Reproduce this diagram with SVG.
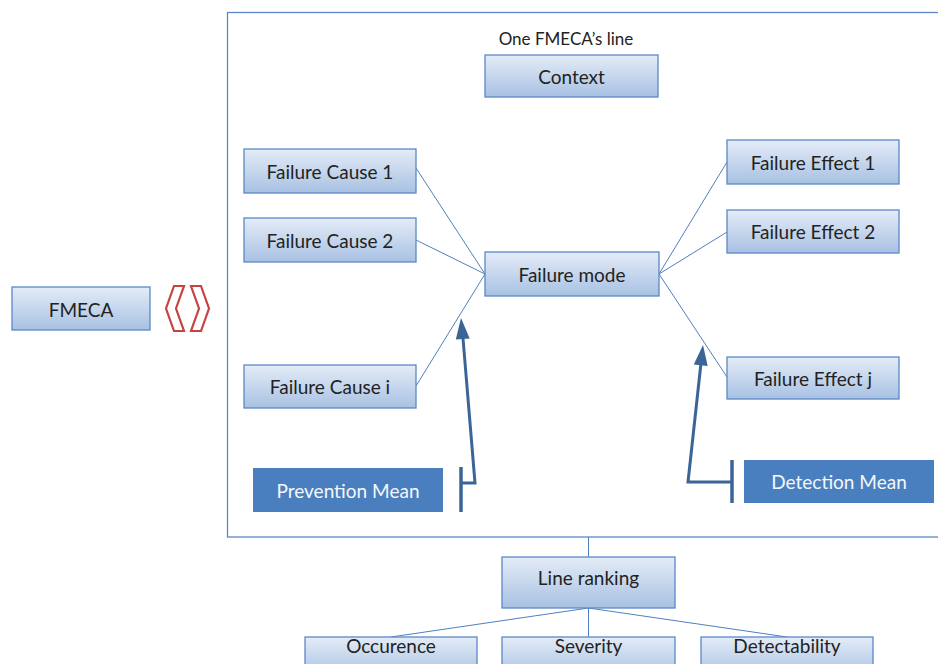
<svg xmlns="http://www.w3.org/2000/svg" width="938" height="664" viewBox="0 0 938 664">
<defs>
<linearGradient id="g" x1="0" y1="0" x2="0" y2="1">
<stop offset="0" stop-color="#e4ecf7"/>
<stop offset="1" stop-color="#a8c1e3"/>
</linearGradient>
</defs>
<style>
.box{fill:url(#g);stroke:#5b88c6;stroke-width:1.3}
.dark{fill:#4a7fbf}
.t{font-family:Lato,"Open Sans",sans-serif;font-size:19px;fill:#222;text-anchor:middle;dominant-baseline:central}
.w{fill:#f4f7fb}
.c{stroke:#4f7fc0;stroke-width:1;fill:none}
.a{stroke:#3a6596;stroke-width:3;fill:none}
.ah{fill:#3a6596}
.bar{stroke:#3a6596;stroke-width:3.5}
</style>
<rect x="0" y="0" width="938" height="664" fill="#fff"/>
<g id="frame"><rect x="227.5" y="12.5" width="730" height="524.5" fill="none" stroke="#5b88c6" stroke-width="1.3"/></g>
<g id="connectors">
<line class="c" x1="485" y1="274" x2="416" y2="168"/>
<line class="c" x1="485" y1="274" x2="416" y2="240"/>
<line class="c" x1="485" y1="274" x2="416" y2="386"/>
<line class="c" x1="659" y1="274" x2="727" y2="162"/>
<line class="c" x1="659" y1="274" x2="727" y2="232"/>
<line class="c" x1="659" y1="274" x2="727" y2="377"/>
<line class="c" x1="588.5" y1="537" x2="588.5" y2="557"/>
<line class="c" x1="588.5" y1="608" x2="391" y2="637"/>
<line class="c" x1="588.5" y1="608" x2="588.5" y2="637"/>
<line class="c" x1="588.5" y1="608" x2="787" y2="637"/>
<polyline class="a" points="461,483 475,483 462.8,336"/>
<polygon class="ah" points="461,318 469.7,338.5 455.8,339.5"/>
<polyline class="a" points="732,482 688,482 701,363"/>
<polygon class="ah" points="703,345 707.7,366 693.8,364.4"/>
<line class="bar" x1="461" y1="467" x2="461" y2="512"/>
<line class="bar" x1="732" y1="460" x2="732" y2="503"/>
</g>
<g id="fmeca"><rect class="box" x="12" y="287" width="138" height="43"/><text class="t" x="81" y="309">FMECA</text></g>
<g id="brackets" fill="#fff" stroke="#c8423f" stroke-width="2.2" stroke-linejoin="miter">
<polygon points="174,286 184,286 176,308.5 184,331 174,331 166,308.5"/>
<polygon points="191,286 201,286 209,308.5 201,331 191,331 199,308.5"/>
</g>
<g id="title"><text class="t" x="566" y="38" style="font-size:17px">One FMECA’s line</text></g>
<g id="context"><rect class="box" x="485" y="55" width="173" height="42"/><text class="t" x="571.5" y="76">Context</text></g>
<g id="fc1"><rect class="box" x="244" y="149" width="172" height="44"/><text class="t" x="330" y="171">Failure Cause 1</text></g>
<g id="fc2"><rect class="box" x="244" y="218" width="172" height="44"/><text class="t" x="330" y="240">Failure Cause 2</text></g>
<g id="fci"><rect class="box" x="244" y="365" width="172" height="43"/><text class="t" x="330" y="386.5">Failure Cause i</text></g>
<g id="fm"><rect class="box" x="485" y="252" width="174" height="44"/><text class="t" x="572" y="274">Failure mode</text></g>
<g id="fe1"><rect class="box" x="727" y="140" width="172" height="44"/><text class="t" x="813" y="162">Failure Effect 1</text></g>
<g id="fe2"><rect class="box" x="727" y="210" width="172" height="43"/><text class="t" x="813" y="231.5">Failure Effect 2</text></g>
<g id="fej"><rect class="box" x="727" y="357" width="172" height="42"/><text class="t" x="813" y="378">Failure Effect j</text></g>
<g id="prev"><rect class="dark" x="253" y="468" width="190" height="44"/><text class="t w" x="348" y="490">Prevention Mean</text></g>
<g id="det"><rect class="dark" x="744" y="460" width="190" height="43"/><text class="t w" x="839" y="481.5">Detection Mean</text></g>
<g id="lr"><rect class="box" x="502" y="557" width="173" height="51"/><text class="t" x="588.5" y="577">Line ranking</text></g>
<g id="occ"><rect class="box" x="305" y="637" width="172" height="40"/><text class="t" x="391" y="645">Occurence</text></g>
<g id="sev"><rect class="box" x="502" y="637" width="173" height="40"/><text class="t" x="588.5" y="645">Severity</text></g>
<g id="dtb"><rect class="box" x="701" y="637" width="172" height="40"/><text class="t" x="787" y="645">Detectability</text></g>
</svg>
